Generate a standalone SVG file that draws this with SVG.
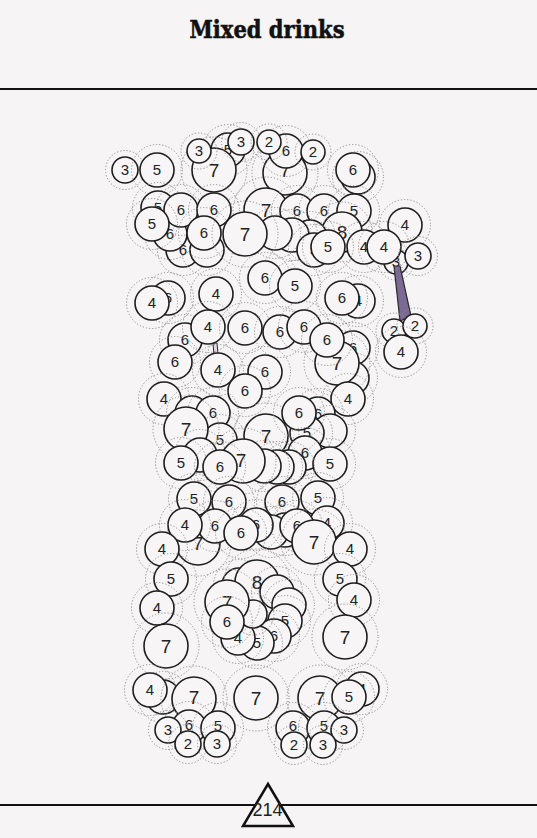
<svg xmlns="http://www.w3.org/2000/svg" width="537" height="838" viewBox="0 0 537 838">
<style>
.d{fill:none;stroke:#8c8c8c;stroke-width:1;stroke-dasharray:1.2 2}
.c{fill:#f7f5f6;stroke:#1e1e1e;stroke-width:1.6}
text{font-family:"Liberation Sans",Arial,sans-serif;text-anchor:middle;fill:#222}
.s{font-size:15px}
.b{font-size:19px}
.ln{stroke:#111;stroke-width:2}
</style>
<rect width="537" height="838" fill="#f6f4f5"/>
<text x="267" y="38" textLength="155" lengthAdjust="spacingAndGlyphs" style="font-family:'DejaVu Serif','Liberation Serif',serif;font-weight:bold;font-size:25px;fill:#111;stroke:#111;stroke-width:0.6">Mixed drinks</text>
<line class="ln" x1="0" y1="89" x2="537" y2="89"/>
<line class="ln" x1="0" y1="805" x2="537" y2="805"/>
<polygon points="268,784 293,826 243,826" fill="#f6f4f5" stroke="#111" stroke-width="2.5"/>
<text x="267.5" y="816" style="font-size:18px">214</text>

<g id="n001" transform="translate(228,150)"><circle class="d" r="25.5"/><circle class="c" r="17"/><text class="s" y="5">5</text></g>
<g id="n002" transform="translate(214,170)"><circle class="d" r="33"/><circle class="c" r="22"/><text class="b" y="7">7</text></g>
<g id="n003" transform="translate(199,151)"><circle class="d" r="18"/><circle class="c" r="12"/><text class="s" y="5">3</text></g>
<g id="n004" transform="translate(241,142)"><circle class="d" r="19.5"/><circle class="c" r="13"/><text class="s" y="5">3</text></g>
<g id="n005" transform="translate(125,170)"><circle class="d" r="19.5"/><circle class="c" r="13"/><text class="s" y="5">3</text></g>
<g id="n006" transform="translate(157,170)"><circle class="d" r="25.5"/><circle class="c" r="17"/><text class="s" y="5">5</text></g>
<g id="n007" transform="translate(285,173)"><circle class="d" r="33"/><circle class="c" r="22"/><text class="b" y="4">7</text></g>
<g id="n008" transform="translate(286,151)"><circle class="d" r="25.5"/><circle class="c" r="17"/><text class="s" y="5">6</text></g>
<g id="n009" transform="translate(269,142)"><circle class="d" r="18"/><circle class="c" r="12"/><text class="s" y="5">2</text></g>
<g id="n010" transform="translate(313,152)"><circle class="d" r="18"/><circle class="c" r="12"/><text class="s" y="5">2</text></g>
<g id="n011" transform="translate(358,177)"><circle class="d" r="25.5"/><circle class="c" r="17"/></g>
<g id="n012" transform="translate(353,170)"><circle class="d" r="25.5"/><circle class="c" r="17"/><text class="s" y="5">6</text></g>

<g id="n013" transform="translate(183,250)"><circle class="d" r="25.5"/><circle class="c" r="17"/><text class="s" y="5">6</text></g>
<g id="n014" transform="translate(207,250)"><circle class="d" r="25.5"/><circle class="c" r="17"/></g>
<g id="n015" transform="translate(170,234)"><circle class="d" r="25.5"/><circle class="c" r="17"/><text class="s" y="5">6</text></g>
<g id="n016" transform="translate(158,208)"><circle class="d" r="25.5"/><circle class="c" r="17"/><text class="s" y="5">5</text></g>
<g id="n017" transform="translate(181,210)"><circle class="d" r="25.5"/><circle class="c" r="17"/><text class="s" y="5">6</text></g>
<g id="n018" transform="translate(214,210)"><circle class="d" r="25.5"/><circle class="c" r="17"/><text class="s" y="5">6</text></g>
<g id="n019" transform="translate(152,224)"><circle class="d" r="25.5"/><circle class="c" r="17"/><text class="s" y="5">5</text></g>
<g id="n020" transform="translate(204,233)"><circle class="d" r="25.5"/><circle class="c" r="17"/><text class="s" y="5">6</text></g>
<g id="n021" transform="translate(266,210)"><circle class="d" r="33"/><circle class="c" r="22"/><text class="b" y="7">7</text></g>
<g id="n022" transform="translate(297,211)"><circle class="d" r="25.5"/><circle class="c" r="17"/><text class="s" y="5">6</text></g>
<g id="n023" transform="translate(324,211)"><circle class="d" r="25.5"/><circle class="c" r="17"/><text class="s" y="5">6</text></g>
<g id="n024" transform="translate(354,211)"><circle class="d" r="25.5"/><circle class="c" r="17"/><text class="s" y="5">5</text></g>
<g id="n025" transform="translate(342,232)"><circle class="d" r="30"/><circle class="c" r="20"/><text class="b" y="7">8</text></g>
<g id="n026" transform="translate(364,247)"><circle class="d" r="25.5"/><circle class="c" r="17"/><text class="s" y="5">4</text></g>
<g id="n027" transform="translate(310,237)"><circle class="d" r="25.5"/><circle class="c" r="17"/></g>
<g id="n028" transform="translate(292,235)"><circle class="d" r="25.5"/><circle class="c" r="17"/></g>
<g id="n029" transform="translate(275,233)"><circle class="d" r="25.5"/><circle class="c" r="17"/></g>
<g id="n030" transform="translate(245,234)"><circle class="d" r="33"/><circle class="c" r="22"/><text class="b" y="7">7</text></g>
<g id="n031" transform="translate(314,250)"><circle class="d" r="25.5"/><circle class="c" r="17"/><text class="s" y="5">5</text></g>
<g id="n032" transform="translate(328,247)"><circle class="d" r="25.5"/><circle class="c" r="17"/><text class="s" y="5">5</text></g>
<g id="n033" transform="translate(405,225)"><circle class="d" r="25.5"/><circle class="c" r="17"/><text class="s" y="5">4</text></g>
<g id="n034" transform="translate(396,262)"><circle class="d" r="18"/><circle class="c" r="12"/><text class="s" y="5">3</text></g>

<g id="connectors">
<polygon points="394,266 400,266 411,316 400,321" fill="#7b6b94" stroke="#2a2a2a" stroke-width="1.2"/>
<polygon points="213,343 217,343 218,355 214,355" fill="#e6d6e6" stroke="#2a2a2a" stroke-width="1"/>
</g>

<g id="n035" transform="translate(384,247)"><circle class="d" r="25.5"/><circle class="c" r="17"/><text class="s" y="5">4</text></g>
<g id="n036" transform="translate(418,256)"><circle class="d" r="19.5"/><circle class="c" r="13"/><text class="s" y="5">3</text></g>

<g id="n037" transform="translate(265,278)"><circle class="d" r="25.5"/><circle class="c" r="17"/><text class="s" y="5">6</text></g>
<g id="n038" transform="translate(295,286)"><circle class="d" r="25.5"/><circle class="c" r="17"/><text class="s" y="5">5</text></g>
<g id="n039" transform="translate(168,298)"><circle class="d" r="25.5"/><circle class="c" r="17"/><text class="s" y="5">6</text></g>
<g id="n040" transform="translate(152,303)"><circle class="d" r="25.5"/><circle class="c" r="17"/><text class="s" y="5">4</text></g>
<g id="n041" transform="translate(216,294)"><circle class="d" r="25.5"/><circle class="c" r="17"/><text class="s" y="5">4</text></g>
<g id="n042" transform="translate(358,301)"><circle class="d" r="25.5"/><circle class="c" r="17"/><text class="s" y="5">4</text></g>
<g id="n043" transform="translate(342,298)"><circle class="d" r="25.5"/><circle class="c" r="17"/><text class="s" y="5">6</text></g>
<g id="n044" transform="translate(185,340)"><circle class="d" r="25.5"/><circle class="c" r="17"/><text class="s" y="5">6</text></g>
<g id="n045" transform="translate(208,327)"><circle class="d" r="25.5"/><circle class="c" r="17"/><text class="s" y="5">4</text></g>
<g id="n046" transform="translate(175,362)"><circle class="d" r="25.5"/><circle class="c" r="17"/><text class="s" y="5">6</text></g>
<g id="n047" transform="translate(245,328)"><circle class="d" r="25.5"/><circle class="c" r="17"/><text class="s" y="5">6</text></g>
<g id="n048" transform="translate(280,332)"><circle class="d" r="25.5"/><circle class="c" r="17"/><text class="s" y="5">6</text></g>
<g id="n049" transform="translate(304,327)"><circle class="d" r="25.5"/><circle class="c" r="17"/><text class="s" y="5">6</text></g>
<g id="n050" transform="translate(353,348)"><circle class="d" r="25.5"/><circle class="c" r="17"/><text class="s" y="5">6</text></g>
<g id="n051" transform="translate(352,378)"><circle class="d" r="25.5"/><circle class="c" r="17"/></g>
<g id="n052" transform="translate(337,363)"><circle class="d" r="33"/><circle class="c" r="22"/><text class="b" y="7">7</text></g>
<g id="n053" transform="translate(327,340)"><circle class="d" r="25.5"/><circle class="c" r="17"/><text class="s" y="5">6</text></g>
<g id="n054" transform="translate(218,370)"><circle class="d" r="25.5"/><circle class="c" r="17"/><text class="s" y="5">4</text></g>
<g id="n055" transform="translate(265,372)"><circle class="d" r="25.5"/><circle class="c" r="17"/><text class="s" y="5">6</text></g>
<g id="n056" transform="translate(164,399)"><circle class="d" r="25.5"/><circle class="c" r="17"/><text class="s" y="5">4</text></g>
<g id="n057" transform="translate(245,391)"><circle class="d" r="25.5"/><circle class="c" r="17"/><text class="s" y="5">6</text></g>
<g id="n058" transform="translate(348,399)"><circle class="d" r="25.5"/><circle class="c" r="17"/><text class="s" y="5">4</text></g>
<g id="n059" transform="translate(394,331)"><circle class="d" r="18"/><circle class="c" r="12"/><text class="s" y="5">2</text></g>
<g id="n060" transform="translate(415,326)"><circle class="d" r="18"/><circle class="c" r="12"/><text class="s" y="5">2</text></g>
<g id="n061" transform="translate(401,352)"><circle class="d" r="25.5"/><circle class="c" r="17"/><text class="s" y="5">4</text></g>

<g id="n062" transform="translate(192,413)"><circle class="d" r="25.5"/><circle class="c" r="17"/></g>
<g id="n063" transform="translate(213,413)"><circle class="d" r="25.5"/><circle class="c" r="17"/><text class="s" y="5">6</text></g>
<g id="n064" transform="translate(220,440)"><circle class="d" r="25.5"/><circle class="c" r="17"/><text class="s" y="5">5</text></g>
<g id="n065" transform="translate(186,429)"><circle class="d" r="33"/><circle class="c" r="22"/><text class="b" y="7">7</text></g>
<g id="n066" transform="translate(200,455)"><circle class="d" r="25.5"/><circle class="c" r="17"/></g>
<g id="n067" transform="translate(318,414)"><circle class="d" r="25.5"/><circle class="c" r="17"/><text class="s" y="5">6</text></g>
<g id="n068" transform="translate(330,431)"><circle class="d" r="25.5"/><circle class="c" r="17"/></g>
<g id="n069" transform="translate(307,433)"><circle class="d" r="25.5"/><circle class="c" r="17"/><text class="s" y="5">5</text></g>
<g id="n070" transform="translate(266,436)"><circle class="d" r="33"/><circle class="c" r="22"/><text class="b" y="7">7</text></g>
<g id="n071" transform="translate(299,413)"><circle class="d" r="25.5"/><circle class="c" r="17"/><text class="s" y="5">6</text></g>
<g id="n072" transform="translate(305,453)"><circle class="d" r="25.5"/><circle class="c" r="17"/><text class="s" y="5">6</text></g>
<g id="n073" transform="translate(330,464)"><circle class="d" r="25.5"/><circle class="c" r="17"/><text class="s" y="5">5</text></g>
<g id="n074" transform="translate(181,463)"><circle class="d" r="25.5"/><circle class="c" r="17"/><text class="s" y="5">5</text></g>
<g id="n075" transform="translate(289,467)"><circle class="d" r="25.5"/><circle class="c" r="17"/></g>
<g id="n076" transform="translate(277,467)"><circle class="d" r="25.5"/><circle class="c" r="17"/></g>
<g id="n077" transform="translate(264,466)"><circle class="d" r="25.5"/><circle class="c" r="17"/></g>
<g id="n078" transform="translate(243,461)"><circle class="d" r="33"/><circle class="c" r="22"/><text class="b" x="-2" y="6">7</text></g>
<g id="n079" transform="translate(220,467)"><circle class="d" r="25.5"/><circle class="c" r="17"/><text class="s" y="5">6</text></g>

<g id="n080" transform="translate(194,499)"><circle class="d" r="25.5"/><circle class="c" r="17"/><text class="s" y="5">5</text></g>
<g id="n081" transform="translate(229,502)"><circle class="d" r="25.5"/><circle class="c" r="17"/><text class="s" y="5">6</text></g>
<g id="n082" transform="translate(282,502)"><circle class="d" r="25.5"/><circle class="c" r="17"/><text class="s" y="5">6</text></g>
<g id="n083" transform="translate(318,498)"><circle class="d" r="25.5"/><circle class="c" r="17"/><text class="s" y="5">5</text></g>
<g id="n084" transform="translate(198,543)"><circle class="d" r="33"/><circle class="c" r="22"/><text class="b" y="7">7</text></g>
<g id="n085" transform="translate(215,526)"><circle class="d" r="25.5"/><circle class="c" r="17"/><text class="s" y="5">6</text></g>
<g id="n086" transform="translate(185,525)"><circle class="d" r="25.5"/><circle class="c" r="17"/><text class="s" y="5">4</text></g>
<g id="n087" transform="translate(285,530)"><circle class="d" r="25.5"/><circle class="c" r="17"/></g>
<g id="n088" transform="translate(271,532)"><circle class="d" r="25.5"/><circle class="c" r="17"/></g>
<g id="n089" transform="translate(256,525)"><circle class="d" r="25.5"/><circle class="c" r="17"/><text class="s" y="5">6</text></g>
<g id="n090" transform="translate(241,533)"><circle class="d" r="25.5"/><circle class="c" r="17"/><text class="s" y="5">6</text></g>
<g id="n091" transform="translate(327,523)"><circle class="d" r="25.5"/><circle class="c" r="17"/><text class="s" y="5">4</text></g>
<g id="n092" transform="translate(297,526)"><circle class="d" r="25.5"/><circle class="c" r="17"/><text class="s" y="5">6</text></g>
<g id="n093" transform="translate(314,542)"><circle class="d" r="33"/><circle class="c" r="22"/><text class="b" y="7">7</text></g>
<g id="n094" transform="translate(162,549)"><circle class="d" r="25.5"/><circle class="c" r="17"/><text class="s" y="5">4</text></g>
<g id="n095" transform="translate(350,549)"><circle class="d" r="25.5"/><circle class="c" r="17"/><text class="s" y="5">4</text></g>

<g id="n096" transform="translate(171,579)"><circle class="d" r="25.5"/><circle class="c" r="17"/><text class="s" y="5">5</text></g>
<g id="n097" transform="translate(157,608)"><circle class="d" r="25.5"/><circle class="c" r="17"/><text class="s" y="5">4</text></g>
<g id="n098" transform="translate(166,646)"><circle class="d" r="33"/><circle class="c" r="22"/><text class="b" y="7">7</text></g>
<g id="n099" transform="translate(239,585)"><circle class="d" r="25.5"/><circle class="c" r="17"/><text class="s" y="5">4</text></g>
<g id="n100" transform="translate(257,582)"><circle class="d" r="33"/><circle class="c" r="22"/><text class="b" y="7">8</text></g>
<g id="n101" transform="translate(277,592)"><circle class="d" r="25.5"/><circle class="c" r="17"/></g>
<g id="n102" transform="translate(289,605)"><circle class="d" r="25.5"/><circle class="c" r="17"/></g>
<g id="n103" transform="translate(285,621)"><circle class="d" r="25.5"/><circle class="c" r="17"/><text class="s" y="5">5</text></g>
<g id="n104" transform="translate(274,636)"><circle class="d" r="25.5"/><circle class="c" r="17"/><text class="s" y="5">6</text></g>
<g id="n105" transform="translate(257,643)"><circle class="d" r="25.5"/><circle class="c" r="17"/><text class="s" y="5">5</text></g>
<g id="n106" transform="translate(238,638)"><circle class="d" r="25.5"/><circle class="c" r="17"/><text class="s" y="5">4</text></g>
<g id="n107" transform="translate(253,614)"><circle class="d" r="21"/><circle class="c" r="14"/></g>
<g id="n108" transform="translate(227,602)"><circle class="d" r="33"/><circle class="c" r="22"/><text class="b" y="7">7</text></g>
<g id="n109" transform="translate(227,622)"><circle class="d" r="25.5"/><circle class="c" r="17"/><text class="s" y="5">6</text></g>
<g id="n110" transform="translate(340,579)"><circle class="d" r="25.5"/><circle class="c" r="17"/><text class="s" y="5">5</text></g>
<g id="n111" transform="translate(354,600)"><circle class="d" r="25.5"/><circle class="c" r="17"/><text class="s" y="5">4</text></g>
<g id="n112" transform="translate(345,637)"><circle class="d" r="33"/><circle class="c" r="22"/><text class="b" y="7">7</text></g>

<g id="n113" transform="translate(163,697)"><circle class="d" r="25.5"/><circle class="c" r="17"/></g>
<g id="n114" transform="translate(150,690)"><circle class="d" r="25.5"/><circle class="c" r="17"/><text class="s" y="5">4</text></g>
<g id="n115" transform="translate(194,699)"><circle class="d" r="33"/><circle class="c" r="22"/><text class="b" y="5">7</text></g>
<g id="n116" transform="translate(256,698)"><circle class="d" r="33"/><circle class="c" r="22"/><text class="b" y="7">7</text></g>
<g id="n117" transform="translate(320,698)"><circle class="d" r="33"/><circle class="c" r="22"/><text class="b" y="7">7</text></g>
<g id="n118" transform="translate(362,689)"><circle class="d" r="25.5"/><circle class="c" r="17"/><text class="s" y="5">4</text></g>
<g id="n119" transform="translate(349,697)"><circle class="d" r="25.5"/><circle class="c" r="17"/><text class="s" y="5">5</text></g>
<g id="n120" transform="translate(189,727)"><circle class="d" r="25.5"/><circle class="c" r="17"/><text class="s" y="3">6</text></g>
<g id="n121" transform="translate(218,728)"><circle class="d" r="25.5"/><circle class="c" r="17"/><text class="s" y="3">5</text></g>
<g id="n122" transform="translate(168,730)"><circle class="d" r="19.5"/><circle class="c" r="13"/><text class="s" y="5">3</text></g>
<g id="n123" transform="translate(188,744)"><circle class="d" r="19.5"/><circle class="c" r="13"/><text class="s" y="5">2</text></g>
<g id="n124" transform="translate(217,744)"><circle class="d" r="19.5"/><circle class="c" r="13"/><text class="s" y="5">3</text></g>
<g id="n125" transform="translate(293,728)"><circle class="d" r="25.5"/><circle class="c" r="17"/><text class="s" y="3">6</text></g>
<g id="n126" transform="translate(324,728)"><circle class="d" r="25.5"/><circle class="c" r="17"/><text class="s" y="3">5</text></g>
<g id="n127" transform="translate(344,730)"><circle class="d" r="19.5"/><circle class="c" r="13"/><text class="s" y="5">3</text></g>
<g id="n128" transform="translate(294,745)"><circle class="d" r="19.5"/><circle class="c" r="13"/><text class="s" y="5">2</text></g>
<g id="n129" transform="translate(323,745)"><circle class="d" r="19.5"/><circle class="c" r="13"/><text class="s" y="5">3</text></g>
</svg>
